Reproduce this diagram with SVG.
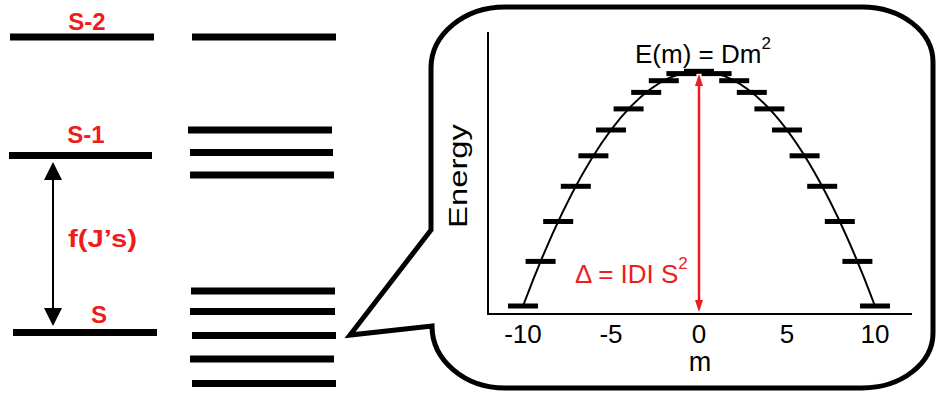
<svg xmlns="http://www.w3.org/2000/svg" width="937" height="395" viewBox="0 0 937 395">
<defs>
<style>
.lvl{fill:#000}
.lbl{font-family:"Liberation Sans",Arial,sans-serif;font-weight:bold;font-size:24px;fill:#ee1c1c;text-anchor:middle}
.txt{font-family:"Liberation Sans",Arial,sans-serif;font-size:26px;fill:#000}
.red{fill:#ee1c1c}
.bar{fill:#000}
</style>
</defs>
<rect width="937" height="395" fill="#fff"/>

<g id="level-S-2">
<rect class="lvl" x="10" y="33.5" width="144" height="7"/>
<text class="lbl" x="87" y="30">S-2</text>
</g>
<g id="split-S-2">
<rect class="lvl" x="192" y="33.5" width="144" height="7"/>
</g>
<g id="level-S-1">
<rect class="lvl" x="9" y="152" width="143" height="7"/>
<text class="lbl" x="86" y="143">S-1</text>
</g>
<g id="split-S-1">
<rect class="lvl" x="188" y="126.5" width="144" height="7"/>
<rect class="lvl" x="190" y="149" width="143" height="7"/>
<rect class="lvl" x="190" y="171.5" width="144" height="7"/>
</g>
<g id="level-S">
<rect class="lvl" x="13" y="329" width="144" height="7"/>
<text class="lbl" x="99" y="323">S</text>
</g>
<g id="split-S">
<rect class="lvl" x="191" y="287.5" width="144" height="7"/>
<rect class="lvl" x="190" y="308" width="145" height="7"/>
<rect class="lvl" x="192" y="332" width="144" height="7"/>
<rect class="lvl" x="190" y="355.5" width="144" height="7"/>
<rect class="lvl" x="192" y="380" width="144" height="7"/>
</g>

<g id="connectors">
<line x1="53" y1="178" x2="53" y2="310" stroke="#000" stroke-width="2"/>
<polygon points="53,162 44,180 62,180" fill="#000"/>
<polygon points="53,326 44,308 62,308" fill="#000"/>
</g>
<g id="gap-label">
<text class="lbl" x="102.5" y="247" font-size="27" textLength="69" lengthAdjust="spacingAndGlyphs">f(J’s)</text>
</g>

<g id="callout">
<path d="M431,230 L431,68 A74,61 0 0 1 505,7 L862,7 A71,55 0 0 1 933,62 L933,333 A71,55 0 0 1 862,388 L505,388 A73,62 0 0 1 432,326 L350,335 Z" fill="#fff" stroke="#000" stroke-width="5" stroke-linejoin="miter"/>
</g>

<g id="plot">
<line x1="488" y1="32" x2="488" y2="315" stroke="#000" stroke-width="2"/>
<line x1="487" y1="314" x2="912" y2="314" stroke="#000" stroke-width="2"/>
<path d="M523,306 Q699,-163.4 875,306" fill="none" stroke="#000" stroke-width="2"/>
<g class="bar">
<rect x="508" y="303.5" width="30" height="5"/>
<rect x="525.6" y="258.9" width="30" height="5"/>
<rect x="543.2" y="219" width="30" height="5"/>
<rect x="560.8" y="183.8" width="30" height="5"/>
<rect x="578.4" y="153.3" width="30" height="5"/>
<rect x="596" y="127.5" width="30" height="5"/>
<rect x="613.6" y="106.4" width="30" height="5"/>
<rect x="631.2" y="89.9" width="30" height="5"/>
<rect x="648.8" y="78.2" width="30" height="5"/>
<rect x="666.4" y="71.1" width="30" height="5"/>
<rect x="684" y="68.8" width="30" height="5"/>
<rect x="701.6" y="71.1" width="30" height="5"/>
<rect x="719.2" y="78.2" width="30" height="5"/>
<rect x="736.8" y="89.9" width="30" height="5"/>
<rect x="754.4" y="106.4" width="30" height="5"/>
<rect x="772" y="127.5" width="30" height="5"/>
<rect x="789.6" y="153.3" width="30" height="5"/>
<rect x="807.2" y="183.8" width="30" height="5"/>
<rect x="824.8" y="219" width="30" height="5"/>
<rect x="842.4" y="258.9" width="30" height="5"/>
<rect x="860" y="303.5" width="30" height="5"/>
</g>
<line x1="699" y1="84" x2="699" y2="302" stroke="#ee1c1c" stroke-width="2.5"/>
<polygon class="red" points="699,74 695,86 703,86"/>
<polygon class="red" points="699,312 695,300 703,300"/>
<text class="txt" x="635" y="63" font-size="28">E(m) = Dm<tspan font-size="17" dy="-14">2</tspan></text>
<text class="txt red" x="575" y="283" font-size="28">Δ = IDI S<tspan font-size="17" dy="-14">2</tspan></text>
<text class="txt" x="467" y="176" font-size="28" text-anchor="middle" textLength="104" lengthAdjust="spacingAndGlyphs" transform="rotate(-90 467 176)">Energy</text>
<g class="txt" text-anchor="middle">
<text x="523" y="343">-10</text>
<text x="611" y="343">-5</text>
<text x="699" y="343">0</text>
<text x="787" y="343">5</text>
<text x="875" y="343">10</text>
<text x="700" y="371" font-size="27">m</text>
</g>
</g>
</svg>
